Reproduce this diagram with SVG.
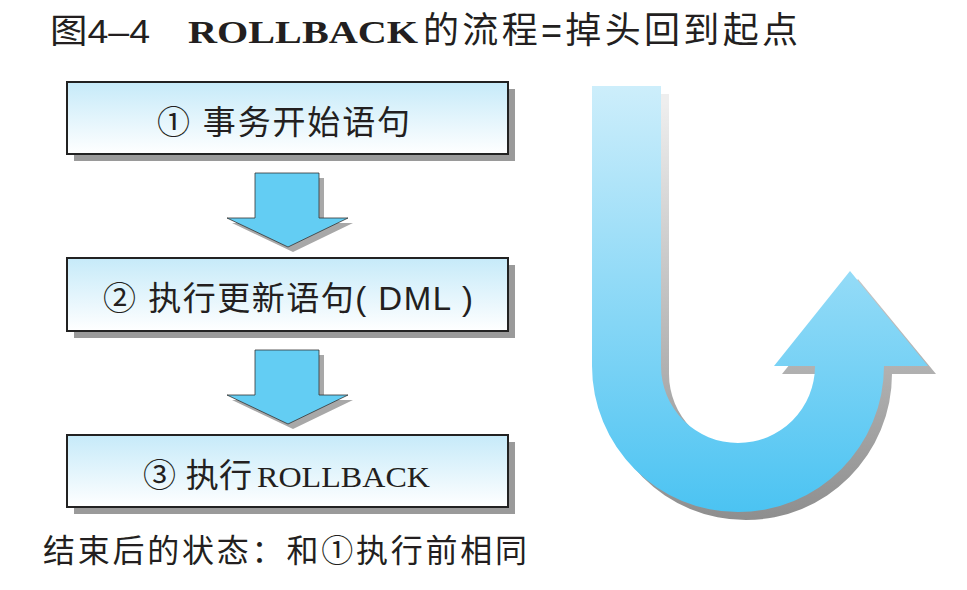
<svg xmlns="http://www.w3.org/2000/svg" width="967" height="590" viewBox="0 0 967 590">
<defs>
<linearGradient id="boxGrad" x1="0" y1="0" x2="0" y2="1">
<stop offset="0" stop-color="#c6eaf9"/>
<stop offset="1" stop-color="#ffffff"/>
</linearGradient>
<linearGradient id="uGrad" gradientUnits="userSpaceOnUse" x1="0" y1="86" x2="0" y2="513">
<stop offset="0" stop-color="#cdeefb"/>
<stop offset="1" stop-color="#4bc3f2"/>
</linearGradient>
<linearGradient id="uShadow" gradientUnits="userSpaceOnUse" x1="0" y1="94" x2="0" y2="521">
<stop offset="0" stop-color="#eeeeee"/>
<stop offset="1" stop-color="#8c8c8c"/>
</linearGradient>
<path id="downArrow" d="M0 0 H64 V45 H93 L33 74 L-28 45 H0 Z"/>
<path id="uPath" d="M592 86 H661 V366 A77 77 0 0 0 815 366 H774 L850 271 L928 366 H884 A146 146 0 0 1 592 366 Z"/>
</defs>
<style>
.sans{font-family:"Liberation Sans","Noto Sans CJK SC",sans-serif;fill:#231f20}
.slab{font-family:"Liberation Serif","Noto Sans CJK SC",serif;fill:#231f20}
.box{fill:url(#boxGrad);stroke:#222;stroke-width:2}
.shadow{fill:#9a9a9a}
.arrow{fill:#63cdf3;stroke:#333;stroke-width:0.8}
.ashadow{fill:#a8a8a8}
</style>
<rect width="967" height="590" fill="#ffffff"/>

<g id="title">
<text class="sans" x="50" y="43" font-size="34" textLength="100" lengthAdjust="spacingAndGlyphs">图4–4</text>
<text class="slab" x="188" y="43" font-size="32" font-weight="bold" textLength="230" lengthAdjust="spacingAndGlyphs">ROLLBACK</text>
<text class="sans" x="423" y="43" font-size="36" textLength="375" lengthAdjust="spacing">的流程=掉头回到起点</text>
</g>

<g id="connectors">
<use href="#downArrow" x="260" y="178" class="ashadow"/>
<use href="#downArrow" x="255" y="173" class="arrow"/>
<use href="#downArrow" x="260" y="355" class="ashadow"/>
<use href="#downArrow" x="255" y="350" class="arrow"/>
</g>

<g id="step1">
<rect class="shadow" x="74" y="89" width="441" height="72"/>
<rect class="box" x="67" y="82" width="441" height="72"/>
<text class="sans" x="157" y="134" font-size="33" textLength="253" lengthAdjust="spacing">① 事务开始语句</text>
</g>

<g id="step2">
<rect class="shadow" x="74" y="265" width="441" height="73"/>
<rect class="box" x="67" y="258" width="441" height="73"/>
<text class="sans" x="103" y="310" font-size="33" textLength="370" lengthAdjust="spacing">② 执行更新语句( DML )</text>
</g>

<g id="step3">
<rect class="shadow" x="74" y="442" width="441" height="72"/>
<rect class="box" x="67" y="435" width="441" height="72"/>
<text class="sans" x="143" y="487" font-size="33" textLength="109" lengthAdjust="spacing">③ 执行</text>
<text class="slab" x="257" y="487" font-size="29" textLength="173" lengthAdjust="spacingAndGlyphs">ROLLBACK</text>
</g>

<g id="uturn">
<use href="#uPath" x="8" y="8" fill="url(#uShadow)"/>
<use href="#uPath" fill="url(#uGrad)"/>
</g>

<g id="note">
<text class="sans" x="43" y="562" font-size="32" textLength="484" lengthAdjust="spacing">结束后的状态：和①执行前相同</text>
</g>
</svg>
